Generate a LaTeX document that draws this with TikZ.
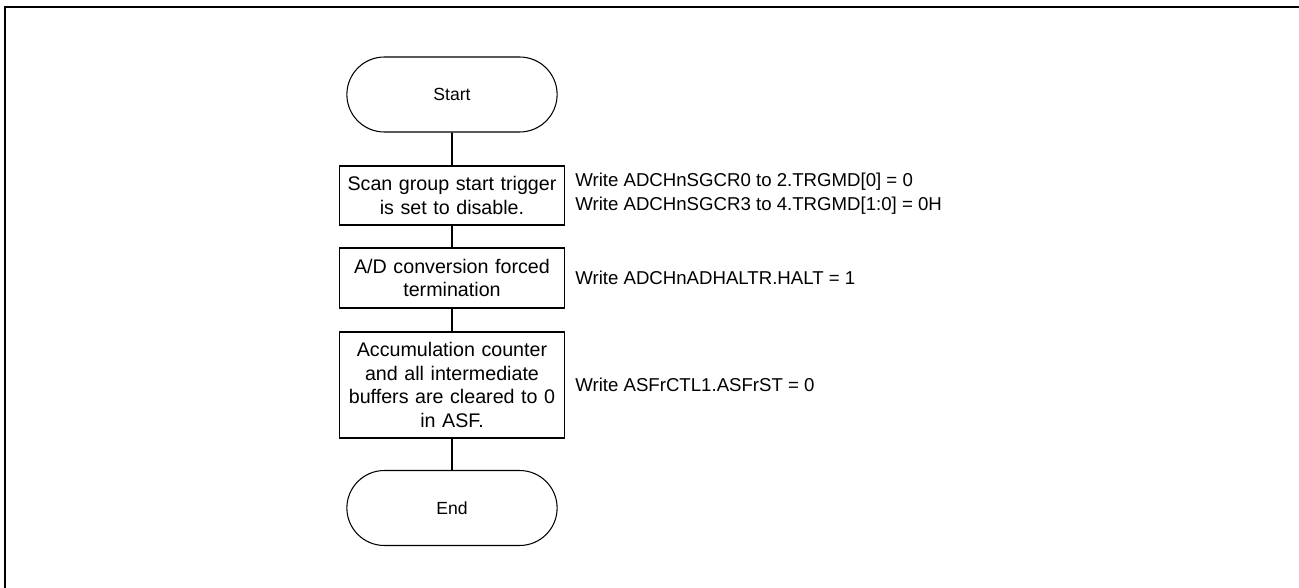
\documentclass[tikz,border=0pt]{standalone}
\usepackage{fontspec}
\setmainfont{Liberation Sans}
\usetikzlibrary{shapes.misc}

\begin{document}
\begin{tikzpicture}[x=0.02cm,y=-0.02cm,
  term/.style={draw,line width=0.6pt,rounded rectangle,minimum width=4.44cm,minimum height=1.5cm,font=\fontsize{10}{12}\selectfont},
  procbox/.style={draw,line width=0.6pt,rectangle,text width=4.44cm,align=center,inner sep=1pt,font=\fontsize{11.2}{13.6}\selectfont},
  note/.style={anchor=west,align=left,inner sep=0pt,font=\fontsize{10.6}{13.4}\selectfont},
  link/.style={line width=1.1pt}]

  \useasboundingbox (0,0) rectangle (1299,588);

  \draw[line width=1.1pt] (5,588) -- (5,7) -- (1299,7);

  \node[term] (start) at (452,94.5) {Start};

  \node[procbox,minimum height=1.18cm] (trig) at (452,195.5) {Scan group start trigger\\is set to disable.};
  \node[procbox,minimum height=1.2cm] (halt) at (452,278) {A/D conversion forced\\termination};
  \node[procbox,minimum height=2.12cm] (clear) at (452,385) {Accumulation counter\\and all intermediate\\buffers are cleared to 0\\in ASF.};

  \node[term] (end) at (452,508) {End};

  \draw[link] (start) -- (trig);
  \draw[link] (trig) -- (halt);
  \draw[link] (halt) -- (clear);
  \draw[link] (clear) -- (end);

  \node[note] (ntrig) at (575,193.5) {Write ADCHnSGCR0 to 2.TRGMD[0] = 0\\Write ADCHnSGCR3 to 4.TRGMD[1:0] = 0H};
  \node[note] (nhalt) at (575,278) {Write ADCHnADHALTR.HALT = 1};
  \node[note] (nclear) at (575,385) {Write ASFrCTL1.ASFrST = 0};

\end{tikzpicture}
\end{document}
